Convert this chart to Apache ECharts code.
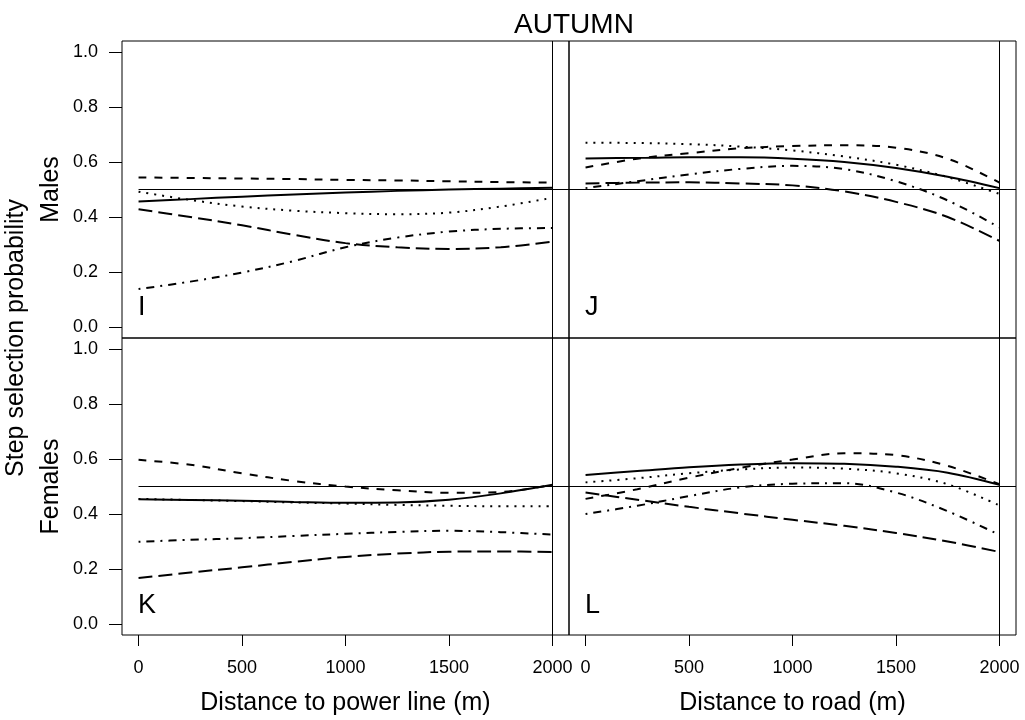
<!DOCTYPE html>
<html>
<head>
<meta charset="utf-8">
<script src="https://cdn.jsdelivr.net/npm/echarts@6/dist/echarts.min.js"></script>
<style>
  html, body { margin: 0; padding: 0; background: #fff; }
  #chart { width: 1025px; height: 720px; }
</style>
</head>
<body>
<div id="chart"></div>
<script>
// Distances (m) at which the fitted curves are sampled
const distance = [0, 250, 500, 750, 1000, 1250, 1500, 1750, 2000];

// Tick positions
const ticksX = [0, 500, 1000, 1500, 2000];
const ticksY = [0, 0.2, 0.4, 0.6, 0.8, 1.0];

// Reference lines
const neutralProb = 0.5;
const maxDistance = 2000;

// Panel I: males, distance to power line
const I_solid     = [0.456, 0.465, 0.474, 0.482, 0.489, 0.495, 0.500, 0.503, 0.506];
const I_dotted    = [0.492, 0.462, 0.438, 0.423, 0.414, 0.410, 0.416, 0.438, 0.470];
const I_shortdash = [0.544, 0.542, 0.540, 0.538, 0.535, 0.533, 0.530, 0.527, 0.525];
const I_dotdash   = [0.138, 0.165, 0.198, 0.240, 0.290, 0.325, 0.347, 0.357, 0.360];
const I_longdash  = [0.428, 0.400, 0.370, 0.335, 0.305, 0.290, 0.284, 0.290, 0.310];

// Panel J: males, distance to road
const J_solid     = [0.613, 0.615, 0.617, 0.617, 0.612, 0.600, 0.578, 0.546, 0.505];
const J_dotted    = [0.670, 0.669, 0.665, 0.656, 0.642, 0.620, 0.590, 0.545, 0.484];
const J_shortdash = [0.580, 0.612, 0.632, 0.650, 0.658, 0.661, 0.652, 0.612, 0.525];
const J_dotdash   = [0.505, 0.530, 0.555, 0.575, 0.586, 0.574, 0.530, 0.460, 0.362];
const J_longdash  = [0.522, 0.525, 0.526, 0.522, 0.515, 0.493, 0.455, 0.400, 0.313];

// Panel K: females, distance to power line
const K_solid     = [0.454, 0.451, 0.448, 0.444, 0.441, 0.442, 0.452, 0.475, 0.506];
const K_dotted    = [0.455, 0.451, 0.447, 0.442, 0.438, 0.433, 0.430, 0.428, 0.428];
const K_shortdash = [0.597, 0.579, 0.548, 0.520, 0.500, 0.486, 0.477, 0.480, 0.506];
const K_dotdash   = [0.299, 0.306, 0.312, 0.320, 0.328, 0.335, 0.339, 0.334, 0.325];
const K_longdash  = [0.167, 0.187, 0.206, 0.226, 0.244, 0.256, 0.263, 0.264, 0.262];

// Panel L: females, distance to road
const L_solid     = [0.542, 0.556, 0.570, 0.580, 0.585, 0.583, 0.572, 0.550, 0.506];
const L_dotted    = [0.515, 0.530, 0.548, 0.562, 0.569, 0.565, 0.548, 0.508, 0.431];
const L_shortdash = [0.455, 0.490, 0.532, 0.568, 0.598, 0.621, 0.614, 0.575, 0.508];
const L_dotdash   = [0.400, 0.430, 0.465, 0.497, 0.510, 0.512, 0.478, 0.410, 0.324];
const L_longdash  = [0.478, 0.452, 0.426, 0.402, 0.379, 0.357, 0.331, 0.300, 0.262];

// R-style line types (lwd = 2)
const lineTypes = {
  solid: 'solid',
  dotted: [2, 6],
  shortdash: [8, 8],
  dotdash: [2, 6, 8, 6],
  longdash: [14, 6]
};

const FONT = '"Liberation Sans", Arial, sans-serif';

const panels = [
  { letter: 'I', left: 122, top: 41,  bottomRow: false, leftCol: true,  yName: 'Males',
    curves: { solid: I_solid, dotted: I_dotted, shortdash: I_shortdash, dotdash: I_dotdash, longdash: I_longdash } },
  { letter: 'J', left: 569, top: 41,  bottomRow: false, leftCol: false,
    curves: { solid: J_solid, dotted: J_dotted, shortdash: J_shortdash, dotdash: J_dotdash, longdash: J_longdash } },
  { letter: 'K', left: 122, top: 338, bottomRow: true,  leftCol: true,  yName: 'Females', xName: 'Distance to power line (m)',
    curves: { solid: K_solid, dotted: K_dotted, shortdash: K_shortdash, dotdash: K_dotdash, longdash: K_longdash } },
  { letter: 'L', left: 569, top: 338, bottomRow: true,  leftCol: false, xName: 'Distance to road (m)',
    curves: { solid: L_solid, dotted: L_dotted, shortdash: L_shortdash, dotdash: L_dotdash, longdash: L_longdash } }
];

const PW = 447, PH = 297;
const xPad = 80, yPad = 0.04;

const grids = [], xAxes = [], yAxes = [], series = [], graphics = [];

panels.forEach((p, i) => {
  grids.push({
    left: p.left, top: p.top, width: PW, height: PH,
    show: true, borderColor: '#000', borderWidth: 1, backgroundColor: 'transparent',
    containLabel: false, outerBoundsMode: 'none'
  });
  xAxes.push({
    type: 'value', gridIndex: i, min: -xPad, max: maxDistance + xPad,
    axisLine: { show: false, onZero: false },
    splitLine: { show: false },
    axisTick: { show: p.bottomRow, customValues: ticksX, length: 11, lineStyle: { color: '#000', width: 1 } },
    axisLabel: { show: p.bottomRow, customValues: ticksX, margin: 24, color: '#000', fontSize: 18, fontFamily: FONT,
                 formatter: v => String(v) },
    name: p.xName || '', nameLocation: 'middle', nameGap: 56,
    nameTextStyle: { color: '#000', fontSize: 25, fontFamily: FONT }
  });
  yAxes.push({
    type: 'value', gridIndex: i, min: -yPad, max: 1 + yPad,
    axisLine: { show: false, onZero: false },
    splitLine: { show: false },
    axisTick: { show: p.leftCol, customValues: ticksY, length: 13, lineStyle: { color: '#000', width: 1 } },
    axisLabel: { show: p.leftCol, customValues: ticksY, margin: 24, color: '#000', fontSize: 18, fontFamily: FONT,
                 formatter: v => v.toFixed(1) },
    name: p.yName || '', nameLocation: 'middle', nameGap: 58, nameRotate: 90,
    nameTextStyle: { color: '#000', fontSize: 25, fontFamily: FONT }
  });

  // Reference lines: x = 2000 and p = 0.5
  const hStart = p.leftCol ? 0 : -xPad;
  series.push({
    type: 'line', xAxisIndex: i, yAxisIndex: i, data: [], silent: true, z: 1,
    markLine: {
      silent: true, symbol: ['none', 'none'], label: { show: false },
      lineStyle: { color: '#000', width: 1, type: 'solid' },
      emphasis: { disabled: true },
      data: [
        { xAxis: maxDistance },
        [{ coord: [hStart, neutralProb] }, { coord: [maxDistance + xPad, neutralProb] }]
      ]
    }
  });

  Object.keys(lineTypes).forEach(k => {
    series.push({
      type: 'line', name: p.letter + '-' + k, xAxisIndex: i, yAxisIndex: i, z: 3,
      data: distance.map((d, j) => [d, p.curves[k][j]]),
      smooth: 0.35, showSymbol: false, silent: true,
      lineStyle: { color: '#000', width: 2, type: lineTypes[k], cap: 'butt' }
    });
  });

  // Panel letter
  graphics.push({
    type: 'text', x: p.left + 16, y: p.top + (p.bottomRow ? 268 : 267),
    style: { text: p.letter, font: '27px ' + FONT, fill: '#000', align: 'left', verticalAlign: 'middle' }
  });
});

// Shared y-axis title
graphics.push({
  type: 'text', x: 16, y: 338, rotation: Math.PI / 2,
  style: { text: 'Step selection probability', font: '25px ' + FONT, fill: '#000', align: 'center', verticalAlign: 'middle' }
});

const chart = echarts.init(document.getElementById('chart'), null, { renderer: 'canvas' });
chart.setOption({
  animation: false,
  backgroundColor: '#fff',
  title: {
    text: 'AUTUMN', left: 569, top: 6, textAlign: 'center',
    textStyle: { color: '#000', fontSize: 28, fontWeight: 'normal', fontFamily: FONT }
  },
  grid: grids,
  xAxis: xAxes,
  yAxis: yAxes,
  series: series,
  graphic: graphics
});
</script>
</body>
</html>
